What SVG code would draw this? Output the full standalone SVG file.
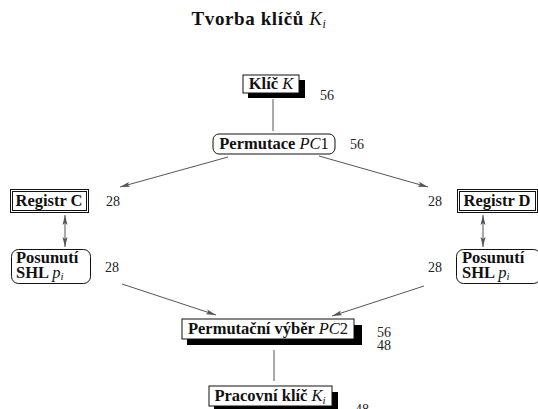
<svg xmlns="http://www.w3.org/2000/svg" width="538" height="409" viewBox="0 0 538 409">
<style>
.lbl{font-family:"Liberation Serif","Times New Roman",serif;font-weight:bold;font-size:16.5px;fill:#111}
.m{font-weight:normal;font-style:italic}
.up{font-weight:normal;font-style:normal}
.num{font-family:"Liberation Serif","Times New Roman",serif;font-size:14px;fill:#222}
.box{fill:#fff;stroke:#111;stroke-width:1}
.sh{fill:#000}
.con{stroke:#555;stroke-width:1;fill:none}
</style>
<defs>
<marker id="ah" viewBox="0 0 10 6" refX="10" refY="3" markerWidth="10" markerHeight="6" orient="auto-start-reverse" markerUnits="userSpaceOnUse">
<path d="M0,0.5 L10,3 L0,5.5 L2,3 z" fill="#555"/>
</marker>
</defs>
<text x="259" y="25" text-anchor="middle" class="lbl" style="font-size:19px;letter-spacing:0.6px">Tvorba klíčů <tspan class="m">K</tspan><tspan class="m" font-size="12" dy="3">i</tspan></text>
<g id="connectors">
<line class="con" x1="273" y1="99" x2="273" y2="131"/>
<line class="con" x1="228" y1="157" x2="120" y2="187" marker-end="url(#ah)"/>
<line class="con" x1="319" y1="156" x2="428" y2="187" marker-end="url(#ah)"/>
<line class="con" x1="65" y1="215" x2="65" y2="247" marker-start="url(#ah)" marker-end="url(#ah)"/>
<line class="con" x1="483" y1="215" x2="483" y2="247" marker-start="url(#ah)" marker-end="url(#ah)"/>
<line class="con" x1="122" y1="284" x2="216" y2="315" marker-end="url(#ah)"/>
<line class="con" x1="424" y1="286" x2="332" y2="316" marker-end="url(#ah)"/>
<line class="con" x1="274" y1="350" x2="274" y2="381"/>
</g>
<g id="klic">
<rect class="sh" x="248" y="80" width="57" height="18"/>
<rect class="box" x="243" y="75" width="56" height="18"/>
<text x="271" y="89" text-anchor="middle" class="lbl">Klíč <tspan class="m">K</tspan></text>
<text x="320" y="100" class="num">56</text>
</g>
<g id="pc1">
<rect class="box" x="213" y="134" width="122" height="20" rx="6"/>
<text x="274" y="149" text-anchor="middle" class="lbl">Permutace <tspan class="m">PC</tspan><tspan class="up">1</tspan></text>
<text x="350" y="149" class="num">56</text>
</g>
<g id="regC">
<rect class="box" x="10.5" y="189.5" width="78" height="23"/>
<rect class="box" x="12.5" y="191.5" width="74" height="19"/>
<text x="49" y="206" text-anchor="middle" class="lbl">Registr C</text>
<text x="106" y="206" class="num">28</text>
</g>
<g id="regD">
<rect class="box" x="457.5" y="189.5" width="80" height="23"/>
<rect class="box" x="459.5" y="191.5" width="76" height="19"/>
<text x="497" y="206" text-anchor="middle" class="lbl">Registr D</text>
<text x="428" y="206" class="num">28</text>
</g>
<g id="shlC">
<rect class="box" x="11.5" y="249.5" width="79" height="34" rx="7"/>
<text x="16" y="263" class="lbl">Posunutí<tspan x="16" y="278">SHL </tspan><tspan class="m">p</tspan><tspan class="m" font-size="11" dy="2">i</tspan></text>
<text x="105" y="272" class="num">28</text>
</g>
<g id="shlD">
<rect class="box" x="456.5" y="249.5" width="84" height="34" rx="7"/>
<text x="462" y="263" class="lbl">Posunutí<tspan x="462" y="278">SHL </tspan><tspan class="m">p</tspan><tspan class="m" font-size="11" dy="2">i</tspan></text>
<text x="428" y="272" class="num">28</text>
</g>
<g id="pc2">
<rect class="sh" x="187" y="325" width="175" height="20"/>
<rect class="box" x="182" y="319" width="172" height="20"/>
<text x="268" y="334" text-anchor="middle" class="lbl">Permutační výběr <tspan class="m">PC</tspan><tspan class="up">2</tspan></text>
<text x="377" y="337" class="num">56<tspan x="377" y="350">48</tspan></text>
</g>
<g id="pracovni">
<rect class="sh" x="214" y="392" width="124" height="20"/>
<rect class="box" x="209" y="386" width="123" height="20"/>
<text x="270" y="401" text-anchor="middle" class="lbl">Pracovní klíč <tspan class="m">K</tspan><tspan class="m" font-size="11" dy="3">i</tspan></text>
<text x="355" y="414" class="num">48</text>
</g>
</svg>
